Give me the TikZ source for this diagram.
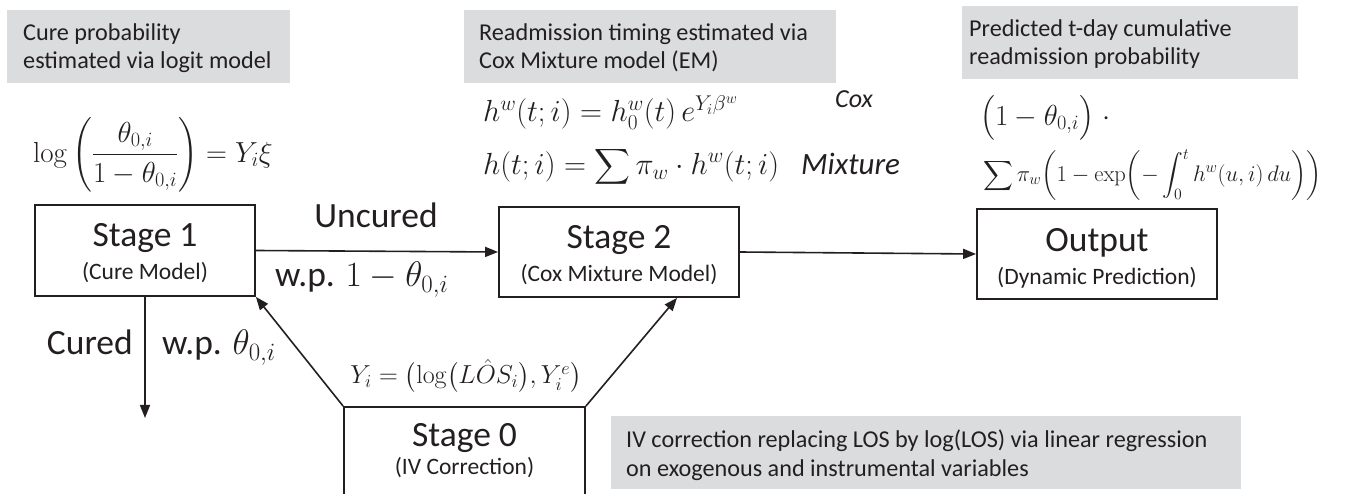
\RequirePackage{fix-cm}
\documentclass[tikz,border=0pt]{standalone}
\usepackage{amsmath}
\usepackage[no-math]{fontspec}
\setmainfont{Carlito}
\usetikzlibrary{arrows.meta,calc}
\definecolor{ink}{RGB}{35,31,32}
\definecolor{panel}{RGB}{219,220,222}
\tikzset{
  stagebox/.style={draw=ink,line width=1.8pt,rectangle,inner sep=0pt},
  stagetitle/.style={anchor=base,font=\fontsize{35.5}{40}\selectfont,text=ink,inner sep=0pt},
  stagesub/.style={anchor=base,font=\fontsize{23.5}{28}\selectfont,text=ink,inner sep=0pt},
  note/.style={fill=panel,draw=none,anchor=north west,inner sep=0pt},
  notetext/.style={anchor=base west,font=\fontsize{24.2}{28}\selectfont,text=ink,inner sep=0pt,align=left},
  flowlabel/.style={font=\fontsize{35.5}{40}\selectfont,text=ink,inner sep=0pt},
  formula/.style={font=\fontsize{29}{34}\selectfont,text=ink,inner sep=0pt},
  bigformula/.style={font=\fontsize{30.5}{36}\selectfont,text=ink,inner sep=0pt},
  smallformula/.style={font=\fontsize{26}{30}\selectfont,text=ink,inner sep=0pt},
  tinyformula/.style={font=\fontsize{22.5}{27}\selectfont,text=ink,inner sep=0pt},
  tag/.style={text=ink,inner sep=0pt,anchor=base west},
  arr/.style={draw=ink,line width=1.6pt,-{Triangle[length=13pt,width=10pt]}},
}
\begin{document}
\begin{tikzpicture}[x=1pt,y=-1pt]
\useasboundingbox (0,0) rectangle (1345,494);

% grey explanation panels
\node[note,minimum width=283pt,minimum height=73pt] (n1) at (7,10) {};
\node[note,minimum width=372pt,minimum height=73pt] (n2) at (464,10) {};
\node[note,minimum width=336pt,minimum height=73pt] (n3) at (962,6) {};
\node[note,minimum width=630pt,minimum height=73pt] (n4) at (611,416) {};

\node[notetext] (n1a) at (23,41) {Cure probability};
\node[notetext] (n1b) at (23,69) {estimated via logit model};
\node[notetext] (n2a) at (479,41) {Readmission timing estimated via};
\node[notetext] (n2b) at (479,69) {Cox Mixture model (EM)};
\node[notetext] (n3a) at (969,37) {Predicted t-day cumulative};
\node[notetext] (n3b) at (969,65) {readmission probability};
\node[notetext] (n4a) at (626,447) {IV correction replacing LOS by log(LOS) via linear regression};
\node[notetext] (n4b) at (626,476) {on exogenous and instrumental variables};

% model formulas
\node[formula,anchor=west] (f1) at (33,155)
  {$\displaystyle \log\left(\frac{\theta_{0,i}}{1-\theta_{0,i}}\right)=Y_i\xi$};
\node[bigformula,anchor=base west] (f2) at (483,122)
  {$h^{w}(t;i)=h_0^{w}(t)\,e^{Y_i\beta^{w}}$};
\node[bigformula,anchor=base west] (f3) at (483,175)
  {$h(t;i)=\displaystyle\sum\nolimits\pi_w\cdot h^{w}(t;i)$};
\node[tag,font=\fontsize{26}{30}\selectfont\itshape] (t1) at (835,108) {Cox};
\node[tag,font=\fontsize{31}{36}\selectfont\itshape] (t2) at (801,175) {Mixture};
\node[formula,anchor=west] (f4) at (980,118)
  {$\bigl(1-\theta_{0,i}\bigr)\;\cdot$};
\node[tinyformula,anchor=west] (f5) at (983,176)
  {$\displaystyle\sum\nolimits\pi_w\biggl(1-\exp\biggl(-\int_0^t h^{w}(u,i)\,du\biggr)\biggr)$};

% stage boxes
\node[stagebox,minimum width=220pt,minimum height=91pt] (s1) at (145,250.5) {};
\node[stagebox,minimum width=240pt,minimum height=90pt] (s2) at (619,252) {};
\node[stagebox,minimum width=240pt,minimum height=90pt] (out) at (1097,254) {};
\node[stagebox,minimum width=241pt,minimum height=110pt] (s0) at (464.5,462) {};

\node[stagetitle] (s1t) at ([yshift=-42pt]s1.north) {Stage 1};
\node[stagesub] (s1s) at ([yshift=-75pt]s1.north) {(Cure Model)};
\node[stagetitle] (s2t) at ([yshift=-42pt]s2.north) {Stage 2};
\node[stagesub] (s2s) at ([yshift=-75pt]s2.north) {(Cox Mixture Model)};
\node[stagetitle] (outt) at ([yshift=-43pt]out.north) {Output};
\node[stagesub] (outs) at ([yshift=-76pt]out.north) {(Dynamic Prediction)};
\node[stagetitle] (s0t) at ([yshift=-40pt]s0.north) {Stage 0};
\node[stagesub] (s0s) at ([yshift=-68pt]s0.north) {(IV Correction)};

% connectors
\coordinate (curedend) at (145,418);
\coordinate (s2in) at ($(s2.south west)!0.74!(s2.south east)$);
\draw[arr] (s1.east) -- (s2.west);
\draw[arr] (s2.east) -- (out.west);
\draw[arr] (s1.south) -- (curedend);
\draw[arr] (s0.north west) -- (s1.south east);
\draw[arr] (s0.north east) -- (s2in);

% branch labels
\node[flowlabel,anchor=base] (unc) at (376,228) {Uncured};
\node[flowlabel,anchor=base west] (wp1) at (275,287) {w.p. $1-\theta_{0,i}$};
\node[flowlabel,anchor=base east] (cur) at (133,355) {Cured};
\node[flowlabel,anchor=base west] (wp0) at (162,355) {w.p. $\theta_{0,i}$};
\node[smallformula,anchor=base] (ylab) at (466,384)
  {$Y_i=\bigl(\log\bigl(L\hat{O}S_i\bigr),Y_i^{e}\bigr)$};
\end{tikzpicture}
\end{document}
